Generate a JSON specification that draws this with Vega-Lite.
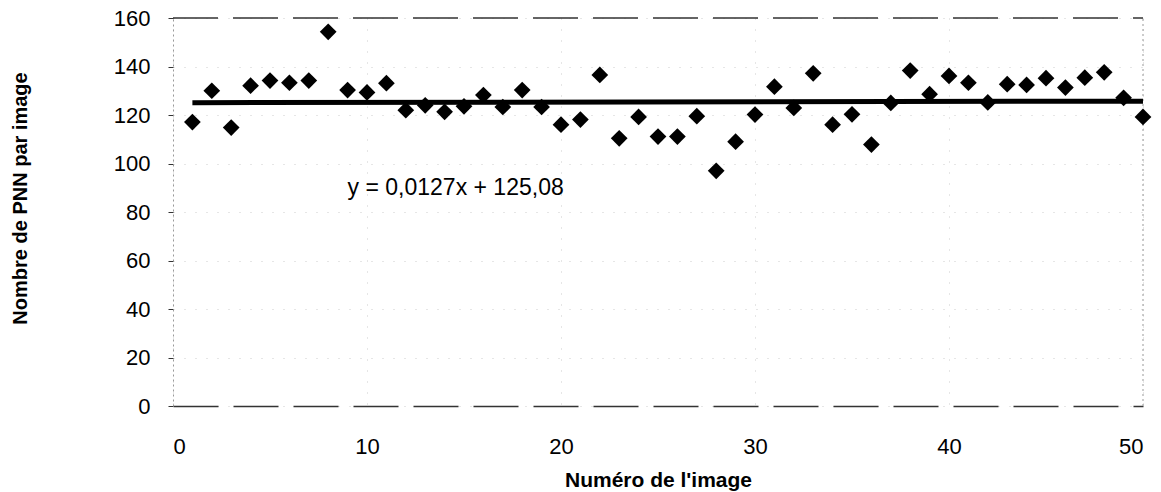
{
  "$schema": "https://vega.github.io/schema/vega-lite/v6.json",
  "width": 970,
  "height": 388,
  "autosize": {"type": "none"},
  "padding": {"left": 173, "top": 18, "right": 18, "bottom": 86},
  "background": "white",
  "config": {"view": {"stroke": null}, "font": "Liberation Sans"},
  "datasets": {
    "points": [
      {"x": 1, "y": 117.1}, {"x": 2, "y": 130}, {"x": 3, "y": 114.8}, {"x": 4, "y": 132.1}, {"x": 5, "y": 134.2},
      {"x": 6, "y": 133.3}, {"x": 7, "y": 134.2}, {"x": 8, "y": 154.3}, {"x": 9, "y": 130.3}, {"x": 10, "y": 129.3},
      {"x": 11, "y": 133.1}, {"x": 12, "y": 122}, {"x": 13, "y": 124}, {"x": 14, "y": 121.3}, {"x": 15, "y": 123.6},
      {"x": 16, "y": 128.2}, {"x": 17, "y": 123.3}, {"x": 18, "y": 130.3}, {"x": 19, "y": 123.3}, {"x": 20, "y": 116},
      {"x": 21, "y": 118.1}, {"x": 22, "y": 136.5}, {"x": 23, "y": 110.4}, {"x": 24, "y": 119.2}, {"x": 25, "y": 111.1},
      {"x": 26, "y": 111.1}, {"x": 27, "y": 119.5}, {"x": 28, "y": 97}, {"x": 29, "y": 109}, {"x": 30, "y": 120.2},
      {"x": 31, "y": 131.7}, {"x": 32, "y": 122.9}, {"x": 33, "y": 137.2}, {"x": 34, "y": 116}, {"x": 35, "y": 120.3},
      {"x": 36, "y": 107.8}, {"x": 37, "y": 125}, {"x": 38, "y": 138.3}, {"x": 39, "y": 128.6}, {"x": 40, "y": 136.1},
      {"x": 41, "y": 133.3}, {"x": 42, "y": 125.2}, {"x": 43, "y": 132.7}, {"x": 44, "y": 132.4}, {"x": 45, "y": 135.2},
      {"x": 46, "y": 131.3}, {"x": 47, "y": 135.4}, {"x": 48, "y": 137.6}, {"x": 49, "y": 127.1}, {"x": 50, "y": 119.2}
    ],
    "trend": [{"x": 1, "y": 125.09}, {"x": 50, "y": 125.72}],
    "top": [{"x": 0, "x2": 50, "y": 160}],
    "right": [{"x": 50, "y": 0, "y2": 160}],
    "eq": [{"x": 9, "y": 90, "label": "y = 0,0127x + 125,08"}]
  },
  "encoding": {
    "x": {
      "field": "x", "type": "quantitative",
      "scale": {"domain": [0, 50], "nice": false},
      "axis": {
        "values": [0, 10, 20, 30, 40, 50],
        "grid": true, "gridColor": "#cccccc", "gridDash": [1, 10],
        "ticks": false, "labelPadding": 30, "labelDx": -3,
        "labelFontSize": 22, "labelColor": "#000",
        "domainColor": "#333", "domainDash": [45, 15], "domainWidth": 1.5,
        "title": "Numéro de l'image", "titleFontSize": 21, "titleFontWeight": "bold",
        "titleColor": "#000", "titleY": 74, "titleBaseline": "middle"
      }
    },
    "y": {
      "field": "y", "type": "quantitative",
      "scale": {"domain": [0, 160], "nice": false},
      "axis": {
        "values": [0, 20, 40, 60, 80, 100, 120, 140, 160],
        "grid": true, "gridColor": "#cccccc", "gridDash": [1, 10],
        "ticks": true, "tickColor": "#333", "tickSize": 5, "labelPadding": 18,
        "labelFontSize": 22, "labelColor": "#000",
        "domainColor": "#999", "domainDash": [2, 3],
        "title": "Nombre de PNN par image", "titleFontSize": 20, "titleFontWeight": "bold",
        "titleColor": "#000", "titleX": -153, "titleY": 180, "titleBaseline": "middle", "titleAngle": -90
      }
    }
  },
  "layer": [
    {
      "data": {"name": "top"},
      "mark": {"type": "rule", "color": "#333", "strokeWidth": 1.5, "strokeDash": [45, 15]},
      "encoding": {"x2": {"field": "x2"}}
    },
    {
      "data": {"name": "right"},
      "mark": {"type": "rule", "color": "#999", "strokeWidth": 1, "strokeDash": [2, 3]},
      "encoding": {"y2": {"field": "y2"}}
    },
    {
      "data": {"name": "trend"},
      "mark": {"type": "line", "color": "#000", "strokeWidth": 5},
      "encoding": {}
    },
    {
      "data": {"name": "points"},
      "mark": {"type": "point", "shape": "diamond", "filled": true, "size": 280, "color": "#000", "opacity": 1},
      "encoding": {}
    },
    {
      "data": {"name": "eq"},
      "mark": {"type": "text", "align": "left", "baseline": "middle", "fontSize": 23, "color": "#000", "font": "Liberation Sans"},
      "encoding": {"text": {"field": "label"}}
    }
  ]
}
